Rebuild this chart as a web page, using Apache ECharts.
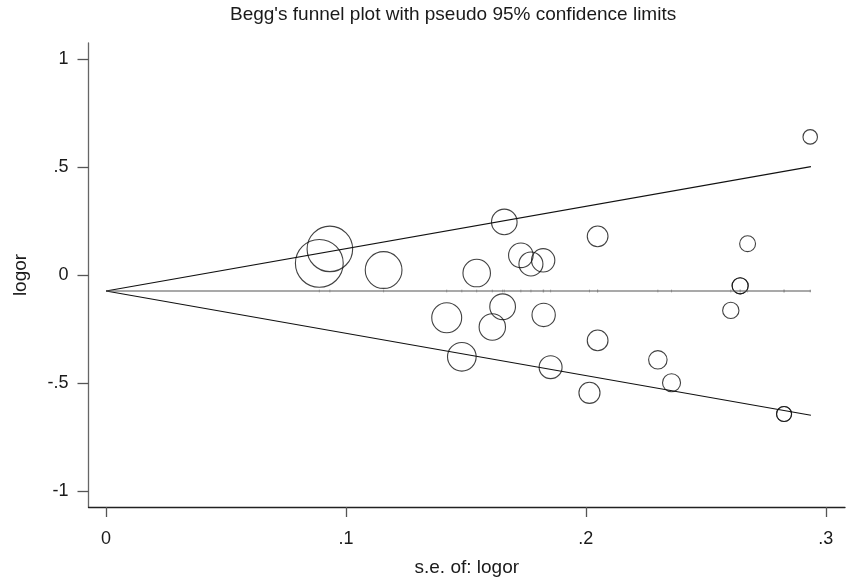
<!DOCTYPE html>
<html>
<head>
<meta charset="utf-8">
<script src="https://cdn.jsdelivr.net/npm/echarts@6/dist/echarts.min.js"></script>
<style>
html,body{margin:0;padding:0;background:#fff;}
#chart{width:846px;height:579px;}
</style>
</head>
<body>
<div id="chart"></div>
<script>
// Study standard errors (x) and log odds ratios (y)
var studySe    = [0.0889, 0.0933, 0.1157, 0.1545, 0.1660, 0.2049, 0.1729, 0.1771, 0.1822,
                  0.1420, 0.1653, 0.1610, 0.1824, 0.2049, 0.1483, 0.1853, 0.2015,
                  0.2935, 0.2674, 0.2643, 0.2643, 0.2604, 0.2300, 0.2357, 0.2826, 0.2826];
var studyLogor = [0.054, 0.121, 0.023, 0.009, 0.246, 0.179, 0.091, 0.051, 0.068,
                  -0.198, -0.147, -0.241, -0.185, -0.303, -0.379, -0.427, -0.546,
                  0.640, 0.145, -0.050, -0.050, -0.164, -0.393, -0.499, -0.644, -0.644];
// Funnel (pseudo 95% limits) end points
var funnelSe     = [0, 0.2938];
var funnelCenter = [-0.074, -0.074];
var funnelUpper  = [-0.074, 0.502];
var funnelLower  = [-0.074, -0.650];
// Tick labels
var xTicks = [0, 0.1, 0.2, 0.3];
var yTicks = [-1, -0.5, 0, 0.5, 1];

function stataNum(v) {
  if (v === 0) return '0';
  var s = String(Math.round(v * 1000) / 1000);
  return s.replace(/^0\./, '.').replace(/^-0\./, '-.');
}
function pairs(xs, ys) { return xs.map(function (x, i) { return [x, ys[i]]; }); }

var font = '"Liberation Sans", Arial, Helvetica, sans-serif';
var textColor = '#1a1a1a';

var chart = echarts.init(document.getElementById('chart'), null, {renderer: 'canvas'});
chart.setOption({
  animation: false,
  backgroundColor: '#ffffff',
  title: {
    text: "Begg's funnel plot with pseudo 95% confidence limits",
    left: 225, top: 0,
    textStyle: {fontFamily: font, fontSize: 19, fontWeight: 'normal', color: textColor}
  },
  grid: {left: 88.5, right: 1, top: 43, bottom: 72, containLabel: false, outerBoundsMode: 'none'},
  xAxis: {
    type: 'value', min: -0.0073, max: 0.308,
    name: 's.e. of: logor', nameLocation: 'middle', nameGap: 51,
    nameTextStyle: {fontFamily: font, fontSize: 19, color: textColor},
    axisLine: {onZero: false, lineStyle: {color: '#222', width: 1.3}},
    axisTick: {show: true, inside: false, length: 10, customValues: xTicks, lineStyle: {color: '#555', width: 1.3}},
    axisLabel: {customValues: xTicks, margin: 23, fontFamily: font, fontSize: 18, color: textColor, formatter: stataNum},
    splitLine: {show: false}
  },
  yAxis: {
    type: 'value', min: -1.075, max: 1.075,
    name: 'logor', nameLocation: 'middle', nameGap: 58, nameRotate: 90,
    nameTextStyle: {fontFamily: font, fontSize: 19, color: textColor},
    axisLine: {onZero: false, lineStyle: {color: '#666', width: 1.3}},
    axisTick: {show: true, inside: false, length: 11, customValues: yTicks, lineStyle: {color: '#555', width: 1.3}},
    axisLabel: {customValues: yTicks, margin: 20, fontFamily: font, fontSize: 18, color: textColor, formatter: stataNum},
    splitLine: {show: false}
  },
  series: [
    {type: 'line', data: pairs(funnelSe, funnelUpper), symbol: 'none', silent: true,
     lineStyle: {color: '#111', width: 1.1}},
    {type: 'line', data: pairs(funnelSe, funnelLower), symbol: 'none', silent: true,
     lineStyle: {color: '#111', width: 1.1}},
    {type: 'line', data: pairs(funnelSe, funnelCenter), symbol: 'none', silent: true,
     lineStyle: {color: '#555', width: 1.1}},
    {type: 'scatter', silent: true,
     data: studySe.map(function (s) { return [s, funnelCenter[0]]; }),
     symbol: 'rect', symbolSize: [1, 3], itemStyle: {color: '#aaa'}},
    {type: 'scatter', silent: true,
     data: pairs(studySe, studyLogor),
     symbol: 'circle',
     symbolSize: function (v) { return 4.25 / v[0]; },
     itemStyle: {color: 'rgba(0,0,0,0)', borderColor: '#111', borderWidth: 1.1}}
  ]
});
</script>
</body>
</html>
